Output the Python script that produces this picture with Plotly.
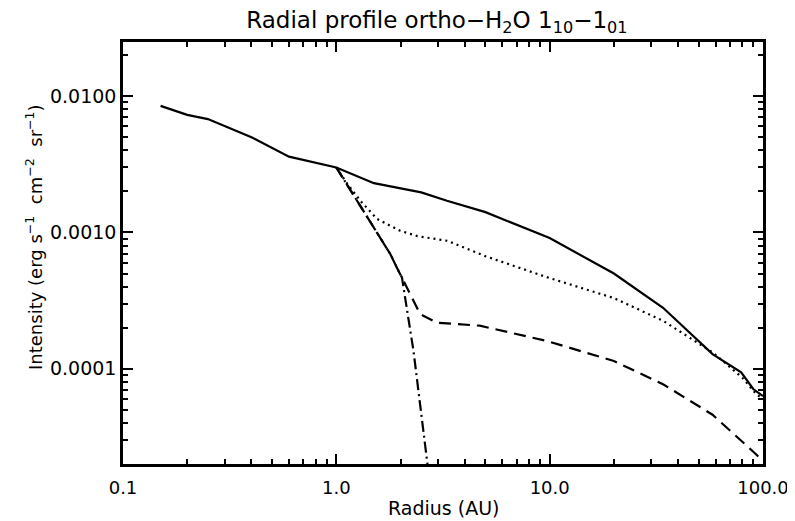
import plotly.graph_objects as go
import numpy as np

# Data
solid_x = [0.15, 0.20, 0.25, 0.40, 0.60, 1.0, 1.5, 2.5, 3.3, 5.0, 10.0, 20.0, 34.0, 58.0, 79.0, 90.0, 100.0]
solid_y = [0.0085, 0.0073, 0.0068, 0.0050, 0.0036, 0.0030, 0.0023, 0.00197, 0.00171, 0.00141,
           0.00091, 0.00050, 0.00028, 0.000128, 0.000094, 0.000071, 0.000063]

dotted_x = [1.0, 1.12, 1.3, 1.55, 1.99, 2.4, 3.3, 5.0, 9.7, 20.0, 34.0, 58.0, 80.0, 93.0, 100.0]
dotted_y = [0.0030, 0.00230, 0.0017, 0.00126, 0.00103, 0.00094, 0.00087, 0.00067, 0.00047,
            0.00033, 0.000225, 0.000132, 0.000086, 0.000065, 0.000060]

dashed_x = [1.0, 1.79, 1.92, 2.47, 2.96, 4.7, 9.7, 20.0, 34.0, 58.0, 93.0, 100.0]
dashed_y = [0.0030, 0.000695, 0.000554, 0.000252, 0.000218, 0.000207, 0.000160, 0.000114,
            0.000077, 0.000046, 0.0000235, 0.000021]

dashdot_x = [1.0, 1.79, 1.92, 2.03, 2.30, 2.50, 2.65, 2.75]
dashdot_y = [0.0030, 0.000695, 0.000554, 0.000468, 0.000135, 0.0000466, 0.0000222, 0.000014]

x_tickvals = [0.1, 1.0, 10.0, 100.0]
x_ticktext = ["0.1", "1.0", "10.0", "100.0"]
y_tickvals = [0.0001, 0.001, 0.01]
y_ticktext = ["0.0001", "0.0010", "0.0100"]

x_minor = [m * 10.0 ** e for e in (-1, 0, 1) for m in range(2, 10)]
y_minor = [m * 10.0 ** e for e in (-5, -4, -3, -2) for m in range(2, 10)]

FONT = "DejaVu Sans"
NB = "\u00a0"

fig = go.Figure()
styles = [
    (solid_x, solid_y, "solid"),
    (dotted_x, dotted_y, "2px,4px"),
    (dashed_x, dashed_y, "12px,7px"),
    (dashdot_x, dashdot_y, "11px,4px,2px,4px"),
]
for xs, ys, dash in styles:
    fig.add_trace(go.Scatter(x=xs, y=ys, mode="lines",
                             line=dict(color="black", width=2.2, dash=dash),
                             showlegend=False, hoverinfo="skip"))

axis_common = dict(
    type="log", showgrid=False, zeroline=False, automargin=False,
    showline=True, linecolor="black", linewidth=2.5, mirror="allticks",
    ticks="inside", ticklen=10, tickwidth=2, tickcolor="black",
)

fig.update_xaxes(
    **axis_common,
    range=[-1, 2],
    tickmode="array", tickvals=x_tickvals, ticktext=x_ticktext,
    ticklabelstandoff=6,
    tickfont=dict(family=FONT, size=18, color="black"),
    minor=dict(tickmode="array", tickvals=x_minor, ticks="inside", ticklen=5,
               tickwidth=2, tickcolor="black"),
)
fig.update_yaxes(
    **axis_common,
    range=[np.log10(2e-5), np.log10(0.025)],
    tickmode="array", tickvals=y_tickvals, ticktext=y_ticktext,
    tickfont=dict(family=FONT, size=19, color="black"),
    minor=dict(tickmode="array", tickvals=y_minor, ticks="inside", ticklen=5,
               tickwidth=2, tickcolor="black"),
)

fig.add_annotation(
    text="Radius (AU)", showarrow=False,
    xref="paper", yref="paper", x=0.5, y=-0.104,
    xanchor="center", yanchor="middle",
    font=dict(family=FONT, size=19, color="black"),
)

ytitle = ("Intensity" + NB + "(erg" + NB + "s<sup>\u22121</sup>" + NB + NB + "cm<sup>\u22122</sup>"
          + NB + NB + "sr<sup>\u22121</sup>)")
fig.add_annotation(
    text=ytitle, textangle=-90, showarrow=False,
    xref="paper", yref="paper", x=-0.139, y=0.538,
    xanchor="center", yanchor="middle",
    font=dict(family=FONT, size=18, color="black"),
)

fig.update_layout(
    width=787, height=513,
    margin=dict(l=115, r=32, t=34, b=57),
    paper_bgcolor="white", plot_bgcolor="white",
    title=dict(text="Radial profile ortho\u2212H<sub>2</sub>O 1<sub>10</sub>\u22121<sub>01</sub>",
               x=0.545, xanchor="center", y=0.977, yanchor="middle",
               font=dict(family=FONT, size=23, color="black")),
)

fig.write_html("out.html")
